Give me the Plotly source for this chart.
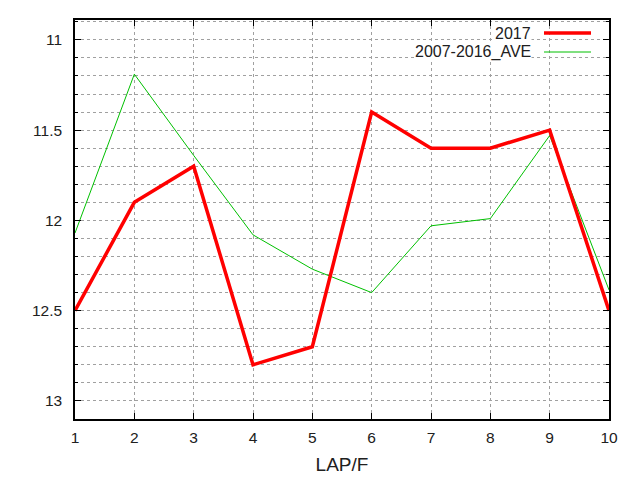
import plotly.graph_objects as go

laps = [1, 2, 3, 4, 5, 6, 7, 8, 9, 10]
times_2017 = [12.5, 11.9, 11.7, 12.8, 12.7, 11.4, 11.6, 11.6, 11.5, 12.5]
times_ave = [12.07, 11.19, 11.64, 12.08, 12.27, 12.40, 12.03, 11.99, 11.53, 12.385]

y_ticks = [11, 11.5, 12, 12.5, 13]
y_labels = ["11", "11.5", "12", "12.5", "13"]

RED = "#ff0000"
GREEN = "#00c000"
GRID = "#a0a0a0"
FONT = "Liberation Sans, Arial, sans-serif"

# plot area in page pixels (the page adds an 8px body margin)
PX0, PX1, PY0, PY1 = 75, 609, 20, 419
W, H = 632, 472

fig = go.Figure()
fig.add_trace(go.Scatter(
    x=laps, y=times_ave, name="2007-2016_AVE", mode="lines",
    line=dict(color=GREEN, width=1),
))
fig.add_trace(go.Scatter(
    x=laps, y=times_2017, name="2017", mode="lines",
    line=dict(color=RED, width=3.5),
))

fig.update_layout(
    width=W, height=H,
    margin=dict(l=PX0 - 8, r=W + 8 - PX1, t=PY0 - 8, b=H + 8 - PY1),
    paper_bgcolor="white", plot_bgcolor="white",
    font=dict(family=FONT, size=15.5, color="#202020"),
    showlegend=False,
    xaxis=dict(
        range=[1, 10], tickvals=laps, ticks="inside", ticklen=6,
        tickcolor="black", showline=True, linecolor="black", linewidth=1.5,
        mirror="ticks", showgrid=True, gridcolor=GRID, griddash="3px,3px",
        gridwidth=1, zeroline=False, ticklabelstandoff=4, automargin=False,
        title=dict(text="LAP/F", standoff=12),
    ),
    yaxis=dict(
        range=[13.1, 10.89], tickvals=y_ticks, ticktext=y_labels,
        ticks="inside", ticklen=6, tickcolor="black",
        showline=True, linecolor="black", linewidth=1.5, mirror="ticks",
        showgrid=True, gridcolor=GRID, griddash="3px,3px", gridwidth=1,
        zeroline=False, ticklabelstandoff=8, automargin=False,
        minor=dict(dtick=0.1, ticks="inside", ticklen=3, tickcolor="black",
                   showgrid=True, gridcolor=GRID, griddash="3px,3px",
                   gridwidth=1),
    ),
)


def px_x(x):
    return (x - PX0) / (PX1 - PX0)


def px_y(y):
    return (PY1 - y) / (PY1 - PY0)


# gnuplot-style key: text right-aligned, line sample on the right
key = [("2017", RED, 3.5, 33), ("2007-2016_AVE", GREEN, 1, 52)]
for label, color, width, ypix in key:
    fig.add_annotation(
        x=px_x(532), y=px_y(ypix), xref="paper", yref="paper",
        xanchor="right", yanchor="middle", text=label, showarrow=False,
        font=dict(family=FONT, size=16, color="#202020"),
        bgcolor="white", borderpad=0,
    )
    fig.add_shape(
        type="line", xref="paper", yref="paper",
        x0=px_x(544), x1=px_x(591), y0=px_y(ypix), y1=px_y(ypix),
        line=dict(color=color, width=width),
    )

fig.write_html("out.html")
